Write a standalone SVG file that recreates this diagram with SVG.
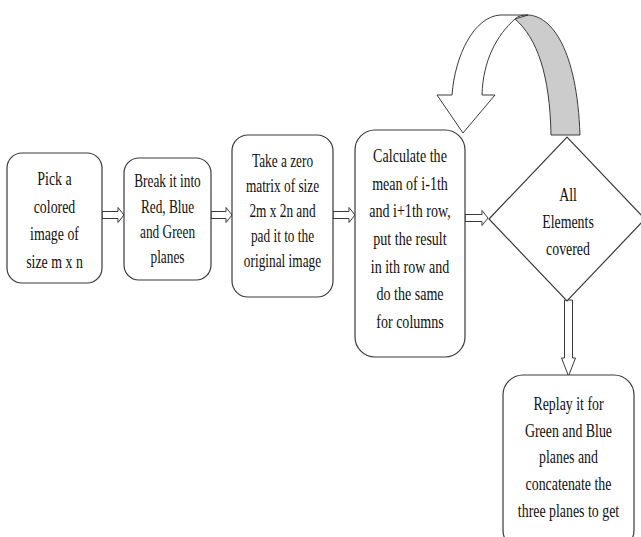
<svg xmlns="http://www.w3.org/2000/svg" width="641" height="537" viewBox="0 0 641 537">
<style>
.box{fill:#fff;stroke:#3a3a3a;stroke-width:1.2}
.arr{fill:#fff;stroke:#3a3a3a;stroke-width:1}
.t{font-family:"Liberation Serif","Times New Roman",serif;font-size:18.5px;fill:#111;text-anchor:middle}
</style>
<rect width="641" height="537" fill="#fff"/>
<g id="connectors">
<path class="arr" d="M102,211.5 H118 V207.5 L124,215 L118,222.5 V218.5 H102 Z"/>
<path class="arr" d="M211,211.5 H226 V207.5 L232,215 L226,222.5 V218.5 H211 Z"/>
<path class="arr" d="M333,211.5 H349 V207.5 L355,215 L349,222.5 V218.5 H333 Z"/>
<path class="arr" d="M465,214.5 H482 V210.5 L488,218 L482,225.5 V221.5 H465 Z"/>
<path class="arr" d="M564.5,300 V358 H561.5 L568.5,376 L575.5,358 H572.5 V300 Z"/>
<g id="loop">
<path d="M528,15 C552,16 577,50 580,135 L551,135 C550,75 537,38 515,19 Z" fill="#cccccc" stroke="#3a3a3a" stroke-width="1"/>
<path class="arr" d="M452,95 C455,55 474,17 500,15 L528,15 C522,15 518,16 515,19 C497,35 483,60 482,95 L495,95 L463,133 L437,95 Z"/>
</g>
</g>
<g id="n1">
<rect class="box" x="7" y="153" width="95" height="130" rx="15"/>
<g transform="translate(54.5 0) scale(0.75 1)"><text class="t"><tspan x="0" y="185">Pick a</tspan><tspan x="0" y="213">colored</tspan><tspan x="0" y="240">image of</tspan><tspan x="0" y="268">size m x n</tspan></text></g>
</g>
<g id="n2">
<rect class="box" x="124" y="158" width="87" height="122" rx="15"/>
<g transform="translate(167.5 0) scale(0.72 1)"><text class="t"><tspan x="0" y="187">Break it into</tspan><tspan x="0" y="213">Red, Blue</tspan><tspan x="0" y="238">and Green</tspan><tspan x="0" y="263">planes</tspan></text></g>
</g>
<g id="n3">
<rect class="box" x="232" y="135" width="101" height="162" rx="16"/>
<g transform="translate(282.5 0) scale(0.72 1)"><text class="t"><tspan x="0" y="167">Take a zero</tspan><tspan x="0" y="192">matrix of size</tspan><tspan x="0" y="217">2m x 2n and</tspan><tspan x="0" y="242">pad it to the</tspan><tspan x="0" y="267">original image</tspan></text></g>
</g>
<g id="n4">
<rect class="box" x="355" y="130" width="110" height="227" rx="20"/>
<g transform="translate(410 0) scale(0.76 1)"><text class="t"><tspan x="0" y="162">Calculate the</tspan><tspan x="0" y="190">mean of i-1th</tspan><tspan x="0" y="217">and i+1th row,</tspan><tspan x="0" y="245">put the result</tspan><tspan x="0" y="273">in ith row and</tspan><tspan x="0" y="300">do the same</tspan><tspan x="0" y="328">for columns</tspan></text></g>
</g>
<g id="n5">
<path class="box" d="M489,219 L567,137 L645,219 L567,301 Z"/>
<g transform="translate(568 0) scale(0.75 1)"><text class="t"><tspan x="0" y="201">All</tspan><tspan x="0" y="228">Elements</tspan><tspan x="0" y="255">covered</tspan></text></g>
</g>
<g id="n6">
<rect class="box" x="503" y="375" width="131" height="175" rx="20"/>
<g transform="translate(568.5 0) scale(0.75 1)"><text class="t"><tspan x="0" y="410">Replay it for</tspan><tspan x="0" y="437">Green and Blue</tspan><tspan x="0" y="463">planes and</tspan><tspan x="0" y="490">concatenate the</tspan><tspan x="0" y="517">three planes to get</tspan></text></g>
</g>
</svg>
